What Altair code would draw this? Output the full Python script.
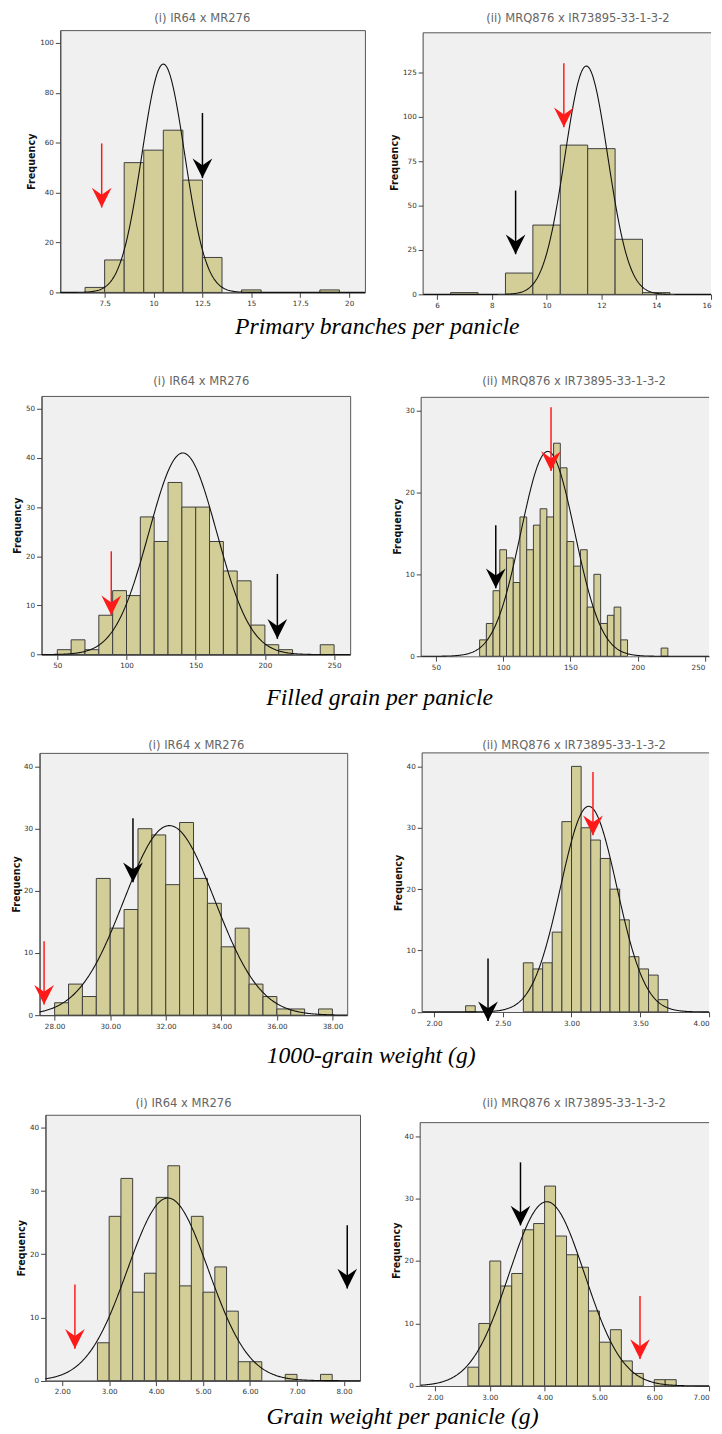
import altair as alt
import numpy as np
import pandas as pd

# ===================== values =====================
TITLE_I = "(i) IR64 x MR276"
TITLE_II = "(ii) MRQ876 x IR73895-33-1-3-2"
CAPTIONS = ["Primary branches per panicle", "Filled grain per panicle",
            "1000-grain weight (g)", "Grain weight per panicle (g)"]
ARROW_COLORS = ["#ff1a1a", "#000000"]          # first arrow red, second black

# --- Row 1: Primary branches per panicle
pb_i_bins = [6.5, 7.5, 8.5, 9.5, 10.5, 11.5, 12.5, 14.5, 18.5]
pb_i_counts = [2, 13, 52, 57, 65, 45, 14, 1, 1]
pb_i_binw = 1.0
pb_i_fit = [10.5, 1.09, 91.5]                  # mean, sd, peak of the normal curve
pb_i_arrow_x = [7.35, 12.5]
pb_i_arrow_from = [59.7, 71.9]
pb_i_arrow_to = [34.0, 45.8]
pb_i_xticks = [7.5, 10, 12.5, 15, 17.5, 20]
pb_i_yticks = [0, 20, 40, 60, 80, 100]

pb_ii_bins = [6.5, 8.5, 9.5, 10.5, 11.5, 12.5, 13.5]
pb_ii_counts = [1, 12, 39, 84, 82, 31, 1]
pb_ii_binw = 1.0
pb_ii_fit = [11.45, 0.78, 128.5]
pb_ii_arrow_x = [10.63, 8.87]
pb_ii_arrow_from = [130, 58.4]
pb_ii_arrow_to = [94, 22.6]
pb_ii_xticks = [6, 8, 10, 12, 14, 16]
pb_ii_yticks = [0, 25, 50, 75, 100, 125]

# --- Row 2: Filled grain per panicle
fg_i_bins = [50, 60, 70, 80, 90, 100, 110, 120, 130, 140, 150, 160, 170, 180, 190, 200, 210, 240]
fg_i_counts = [1, 3, 1, 8, 13, 12, 28, 23, 35, 30, 30, 23, 17, 15, 6, 2, 1, 2]
fg_i_binw = 10.0
fg_i_fit = [140.7, 24.5, 41.0]
fg_i_arrow_x = [89, 209]
fg_i_arrow_from = [21, 16.4]
fg_i_arrow_to = [8, 3.2]
fg_i_xticks = [50, 100, 150, 200, 250]
fg_i_yticks = [0, 10, 20, 30, 40, 50]

fg_ii_bins = [82.5, 87.5, 92.5, 97.5, 102.5, 107.5, 112.5, 117.5, 122.5, 127.5, 132.5, 137.5,
              142.5, 147.5, 152.5, 157.5, 162.5, 167.5, 172.5, 177.5, 182.5, 187.5, 217.5]
fg_ii_counts = [2, 4, 8, 13, 12, 9, 17, 13, 16, 18, 17, 26, 23, 14, 11, 13, 6, 10, 4, 5, 6, 2, 1]
fg_ii_binw = 5.0
fg_ii_fit = [133.2, 20.0, 25.0]
fg_ii_arrow_x = [135.6, 94.5]
fg_ii_arrow_from = [30.4, 16]
fg_ii_arrow_to = [22.6, 8.3]
fg_ii_xticks = [50, 100, 150, 200, 250]
fg_ii_yticks = [0, 10, 20, 30]

# --- Row 3: 1000-grain weight (g)
kw_i_bins = [28.0, 28.5, 29.0, 29.5, 30.0, 30.5, 31.0, 31.5, 32.0, 32.5, 33.0, 33.5, 34.0,
             34.5, 35.0, 35.5, 36.0, 36.5, 37.5]
kw_i_counts = [2, 5, 3, 22, 14, 17, 30, 29, 21, 31, 22, 18, 11, 14, 5, 3, 1, 1, 1]
kw_i_binw = 0.5
kw_i_fit = [32.13, 1.635, 30.5]
kw_i_arrow_x = [27.62, 30.82]
kw_i_arrow_from = [11.9, 31.7]
kw_i_arrow_to = [1.7, 21.4]
kw_i_xticks = [28, 30, 32, 34, 36, 38]
kw_i_yticks = [0, 10, 20, 30, 40]

kw_ii_bins = [2.23, 2.65, 2.72, 2.79, 2.86, 2.93, 3.00, 3.07, 3.14, 3.21, 3.28, 3.35, 3.42,
              3.49, 3.56, 3.63]
kw_ii_counts = [1, 8, 7, 8, 13, 31, 40, 30, 28, 25, 20, 15, 9, 7, 6, 2]
kw_ii_binw = 0.07
kw_ii_fit = [3.125, 0.205, 33.5]
kw_ii_arrow_x = [3.156, 2.393]
kw_ii_arrow_from = [39.1, 8.7]
kw_ii_arrow_to = [28.8, -1.5]
kw_ii_xticks = [2.0, 2.5, 3.0, 3.5, 4.0]
kw_ii_yticks = [0, 10, 20, 30, 40]

# --- Row 4: Grain weight per panicle (g)
gw_i_bins = [2.75, 3.0, 3.25, 3.5, 3.75, 4.0, 4.25, 4.5, 4.75, 5.0, 5.25, 5.5, 5.75, 6.0, 6.75, 7.5]
gw_i_counts = [6, 26, 32, 14, 17, 29, 34, 15, 26, 14, 18, 11, 3, 3, 1, 1]
gw_i_binw = 0.25
gw_i_fit = [4.25, 0.863, 28.9]
gw_i_arrow_x = [2.27, 8.07]
gw_i_arrow_from = [15.2, 24.6]
gw_i_arrow_to = [5.05, 14.6]
gw_i_xticks = [2, 3, 4, 5, 6, 7, 8]
gw_i_yticks = [0, 10, 20, 30, 40]

gw_ii_bins = [2.6, 2.8, 3.0, 3.2, 3.4, 3.6, 3.8, 4.0, 4.2, 4.4, 4.6, 4.8, 5.0, 5.2, 5.4, 5.6, 6.0, 6.2]
gw_ii_counts = [3, 10, 20, 16, 18, 25, 26, 32, 24, 21, 19, 12, 7, 9, 4, 2, 1, 1]
gw_ii_binw = 0.2
gw_ii_fit = [4.04, 0.69, 29.5]
gw_ii_arrow_x = [5.74, 3.56]
gw_ii_arrow_from = [14.4, 35.8]
gw_ii_arrow_to = [4.3, 25.7]
gw_ii_xticks = [2, 3, 4, 5, 6, 7]
gw_ii_yticks = [0, 10, 20, 30, 40]

# ===================== layout & style =====================
BAR_FILL = "#d3ce97"
BAR_EDGE = "#3d3d3d"
PLOT_BG = "#f0f0f0"
FRAME = "#555555"
HEAD = "M0,0L-1,-2L0,-1.3L1,-2Z"

# frame_top: y value where the (cropped) right-hand panel's frame starts
LAY = {
    "pb_i":  dict(xdom=[5.232, 20.806], ydom=[0, 105.1], w=309, h=266, dx=-10.5, off=5.5),
    "pb_ii": dict(xdom=[5.496, 16.0], ydom=[0, 148.7], w=292, h=268, dx=11, off=5.5,
                  frame_top=147.2),
    "fg_i":  dict(xdom=[38.6, 261.6], ydom=[0, 52.6], w=313, h=262.3, dx=5.5, off=8.2),
    "fg_ii": dict(xdom=[39.0, 253.15], ydom=[0, 31.77], w=292, h=264, dx=9, off=8.2,
                  frame_top=31.6),
    "kw_i":  dict(xdom=[27.457, 38.532], ydom=[0, 42.2], w=312, h=266, dx=3, off=1.1, tp=2),
    "kw_ii": dict(xdom=[1.914, 4.0], ydom=[0, 42.2], w=291, h=262.7, dx=8.5, off=1.1,
                  frame_top=42.2),
    "gw_i":  dict(xdom=[1.643, 8.342], ydom=[0, 42.07], w=319, h=269.7, dx=-19.5, off=5.5),
    "gw_ii": dict(xdom=[1.730, 7.0], ydom=[0, 43.42], w=293, h=275, dx=9.5, off=5.5,
                  frame_top=42.16),
}
ROW_SP1 = [16, 2, 1, 6]
ROW_SP2 = [19, 37, 41, 26]
CAP_OFF = [5.7, 15.1, 14.2, 4.5]
CAP_DX = [16.4, 19.8, 11.2, 43]
V_GAP = [35, 27, 27]


def panel(bins, counts, binw, fit, ax_, afrom, ato, xticks, yticks, xfmt, title, L, right):
    bars = pd.DataFrame({"lo": bins, "hi": [b + binw for b in bins], "n": counts,
                         "z": [0] * len(bins)})
    m, s, pk = fit
    xs = np.linspace(L["xdom"][0], L["xdom"][1], 400)
    curve = pd.DataFrame({"x": xs, "y": pk * np.exp(-0.5 * ((xs - m) / s) ** 2)})
    arrows = pd.DataFrame({"x": ax_, "y0": afrom, "y1": ato, "c": ARROW_COLORS})
    xsc = alt.Scale(domain=L["xdom"], nice=False, zero=False)
    ysc = alt.Scale(domain=L["ydom"], nice=False, zero=False)
    if right:
        # last tick label sits on the page edge: right-align it so it stays on the page
        xa = alt.Axis(values=xticks, format=xfmt, title=None,
                      labelAlign={"condition": {"test": f"datum.value >= {xticks[-1]}",
                                                "value": "right"},
                                  "value": "center"})
        ya = alt.Axis(values=yticks, format="d", title="Frequency",
                      titlePadding=L.get("tp", 3), domain=False)
    else:
        xa = alt.Axis(values=xticks, format=xfmt, title=None)
        ya = alt.Axis(values=yticks, format="d", title="Frequency",
                      titlePadding=L.get("tp", 3))

    def X(f):
        return alt.X(f, type="quantitative", scale=xsc, axis=xa)

    def Y(f):
        return alt.Y(f, type="quantitative", scale=ysc, axis=ya)

    b = alt.Chart(bars).mark_rect(fill=BAR_FILL, stroke=BAR_EDGE, strokeWidth=1).encode(
        x=X("lo"), x2="hi", y=Y("n"), y2="z")
    c = alt.Chart(curve).mark_line(color="#111111", strokeWidth=1.1).encode(x=X("x"), y=Y("y"))
    r = alt.Chart(arrows).mark_rule(strokeWidth=1.5).encode(
        x=X("x"), y=Y("y0"), y2="y1", color=alt.Color("c:N", scale=None))
    h = alt.Chart(arrows).mark_point(shape=HEAD, filled=True, size=400, opacity=1,
                                     strokeWidth=0).encode(
        x=X("x"), y=Y("y1"), color=alt.Color("c:N", scale=None))
    props = dict(width=L["w"], height=L["h"],
                 title=alt.TitleParams(title, dx=L["dx"], offset=L["off"]))
    if not right:
        return alt.layer(b, c, r, h).properties(**props)

    # right-hand panels are cropped by the page edge in the reference: draw the plot
    # background and the visible frame edges (left, top) as marks
    one = pd.DataFrame({"a": [0]})
    x0 = alt.XDatum(L["xdom"][0], type="quantitative", scale=xsc, axis=xa)
    x1 = alt.X2Datum(L["xdom"][1])
    y_top = alt.YDatum(L["frame_top"], type="quantitative", scale=ysc, axis=ya)
    bg = alt.Chart(one).mark_rect(fill=PLOT_BG).encode(
        x=x0, x2=x1, y=alt.YDatum(0, type="quantitative", scale=ysc, axis=ya),
        y2=alt.Y2Datum(L["frame_top"]))
    top = alt.Chart(one).mark_rule(color=FRAME, strokeWidth=1).encode(x=x0, x2=x1, y=y_top)
    left = alt.Chart(one).mark_rule(color="#444444", strokeWidth=1).encode(
        x=x0, y=alt.YDatum(0, type="quantitative", scale=ysc, axis=ya),
        y2=alt.Y2Datum(L["frame_top"]))
    props["view"] = alt.ViewBackground(fill="transparent", stroke="transparent")
    return alt.layer(bg, b, c, r, h, top, left).properties(**props)


def spacer(w, h):
    return alt.Chart(pd.DataFrame({"s": [0]})).mark_point(size=0, opacity=0).properties(
        width=w, height=h,
        view=alt.ViewBackground(fill="transparent", stroke="transparent"))


panels = [
    (panel(pb_i_bins, pb_i_counts, pb_i_binw, pb_i_fit, pb_i_arrow_x, pb_i_arrow_from,
           pb_i_arrow_to, pb_i_xticks, pb_i_yticks, ".1~f", TITLE_I, LAY["pb_i"], False),
     panel(pb_ii_bins, pb_ii_counts, pb_ii_binw, pb_ii_fit, pb_ii_arrow_x, pb_ii_arrow_from,
           pb_ii_arrow_to, pb_ii_xticks, pb_ii_yticks, "d", TITLE_II, LAY["pb_ii"], True)),
    (panel(fg_i_bins, fg_i_counts, fg_i_binw, fg_i_fit, fg_i_arrow_x, fg_i_arrow_from,
           fg_i_arrow_to, fg_i_xticks, fg_i_yticks, "d", TITLE_I, LAY["fg_i"], False),
     panel(fg_ii_bins, fg_ii_counts, fg_ii_binw, fg_ii_fit, fg_ii_arrow_x, fg_ii_arrow_from,
           fg_ii_arrow_to, fg_ii_xticks, fg_ii_yticks, "d", TITLE_II, LAY["fg_ii"], True)),
    (panel(kw_i_bins, kw_i_counts, kw_i_binw, kw_i_fit, kw_i_arrow_x, kw_i_arrow_from,
           kw_i_arrow_to, kw_i_xticks, kw_i_yticks, ".2f", TITLE_I, LAY["kw_i"], False),
     panel(kw_ii_bins, kw_ii_counts, kw_ii_binw, kw_ii_fit, kw_ii_arrow_x, kw_ii_arrow_from,
           kw_ii_arrow_to, kw_ii_xticks, kw_ii_yticks, ".2f", TITLE_II, LAY["kw_ii"], True)),
    (panel(gw_i_bins, gw_i_counts, gw_i_binw, gw_i_fit, gw_i_arrow_x, gw_i_arrow_from,
           gw_i_arrow_to, gw_i_xticks, gw_i_yticks, ".2f", TITLE_I, LAY["gw_i"], False),
     panel(gw_ii_bins, gw_ii_counts, gw_ii_binw, gw_ii_fit, gw_ii_arrow_x, gw_ii_arrow_from,
           gw_ii_arrow_to, gw_ii_xticks, gw_ii_yticks, ".2f", TITLE_II, LAY["gw_ii"], True)),
]

rows = []
for i, (left_p, right_p) in enumerate(panels):
    row = alt.hconcat(
        spacer(ROW_SP1[i], 1), left_p, spacer(ROW_SP2[i], 1), right_p, spacing=0,
        title=alt.TitleParams(CAPTIONS[i], orient="bottom", anchor="middle", frame="bounds",
                              font="Liberation Serif", fontStyle="italic", fontSize=24,
                              fontWeight="normal", color="#000000",
                              offset=CAP_OFF[i], dx=CAP_DX[i]))
    rows.append(row)
    if i < 3:
        rows.append(spacer(1, V_GAP[i]))

chart = alt.vconcat(*rows, spacing=0).properties(
    padding={"left": 0, "top": -5.7, "right": 0, "bottom": 0},
    background="white",
).configure_view(
    fill=PLOT_BG, stroke=FRAME, strokeWidth=1
).configure_axis(
    grid=False, labelFont="DejaVu Sans", labelFontSize=7.3, labelColor="#333333",
    titleFont="DejaVu Sans", titleFontSize=9.8, titleFontWeight="bold", titleColor="#111111",
    tickColor="#444444", domainColor="#444444", labelFlush=False, labelOverlap=False
).configure_axisX(
    tickSize=5, labelPadding=2.5
).configure_axisY(
    tickSize=5, labelPadding=2, titlePadding=3
).configure_title(
    font="DejaVu Sans", fontSize=11.7, color="#666666", fontWeight="normal",
    anchor="middle", frame="group"
)

chart.save("out.html", embed_options={"renderer": "svg", "actions": False})
